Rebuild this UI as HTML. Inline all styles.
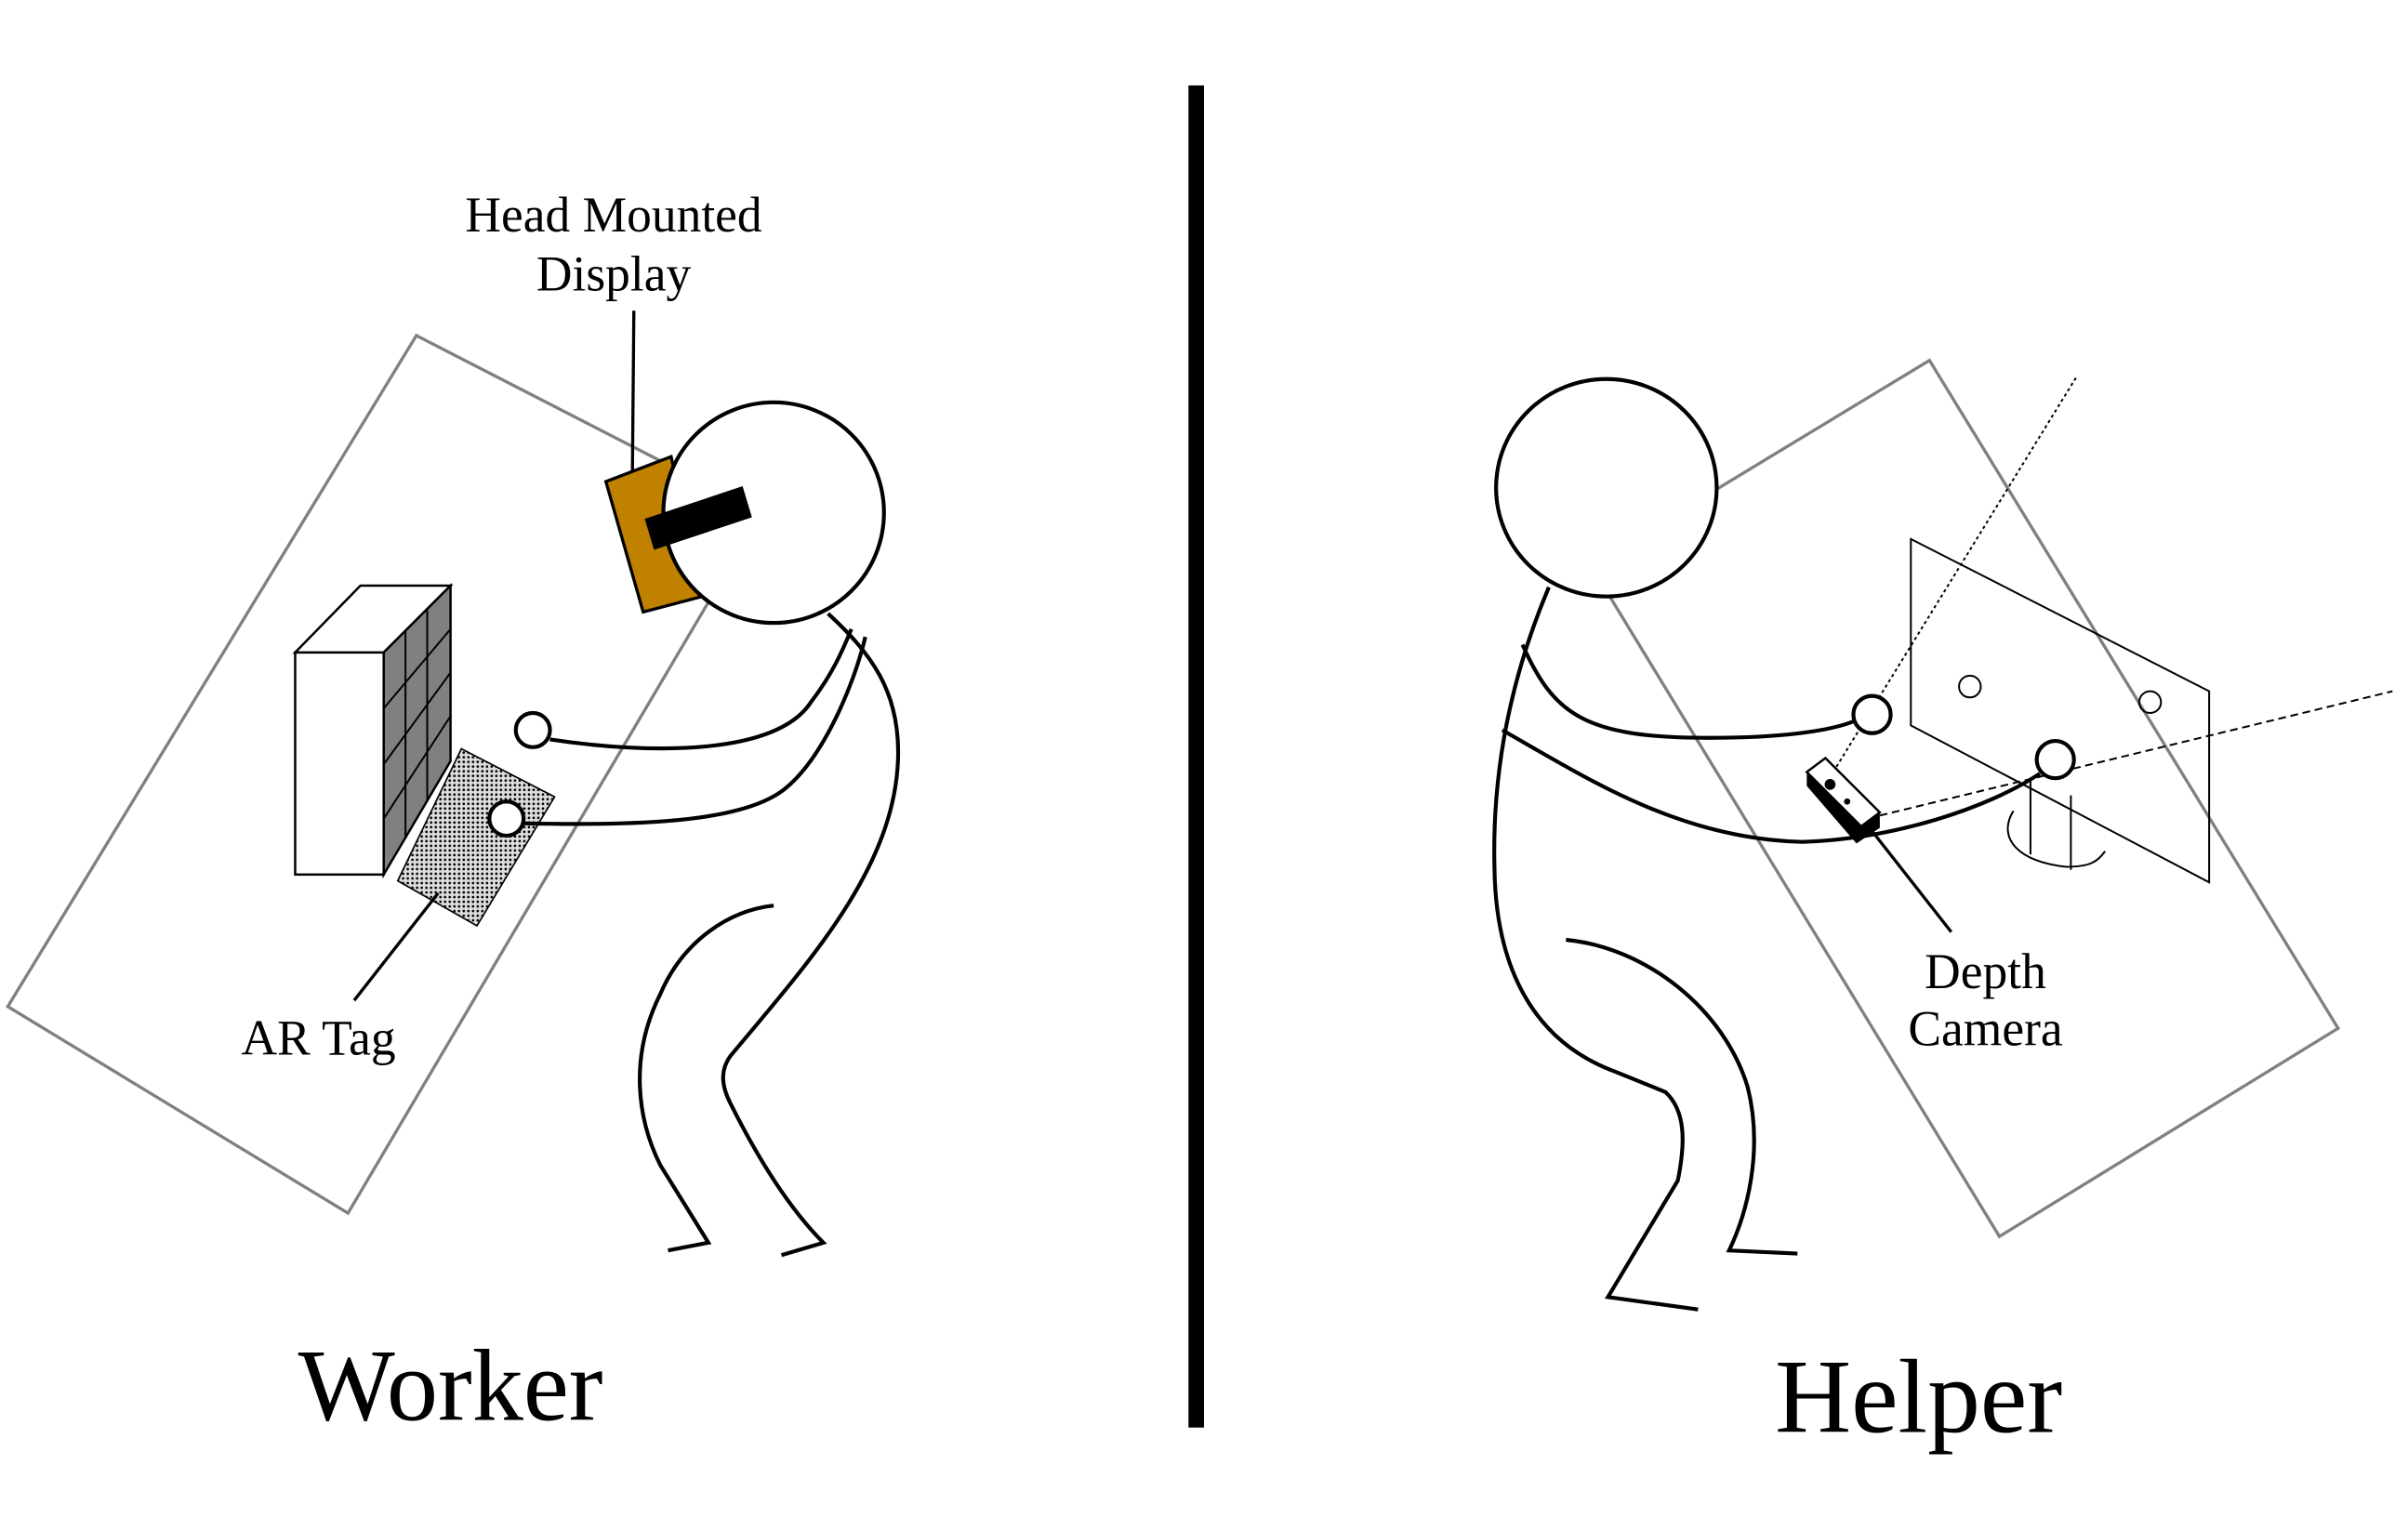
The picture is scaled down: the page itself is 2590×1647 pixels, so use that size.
<!DOCTYPE html>
<html><head><meta charset="utf-8"><style>
html,body{margin:0;padding:0;background:#fff;}
svg{display:block;}
text{font-family:"Liberation Serif",serif;fill:#000;}
</style></head><body>
<svg width="2590" height="1647" viewBox="0 0 1550 985.6" preserveAspectRatio="none" xmlns="http://www.w3.org/2000/svg">
<defs>
<pattern id="dots" width="3" height="3" patternUnits="userSpaceOnUse">
<rect width="3" height="3" fill="#ddd"/><circle cx="1.5" cy="1.5" r="0.8" fill="#000"/>
</pattern>
</defs>
<!-- divider -->
<rect x="765" y="55" width="10" height="864" fill="#000"/>

<!-- WORKER -->
<polygon points="268,216 5,648 224,781 490,330" fill="none" stroke="#808080" stroke-width="2"/>
<text x="395" y="149" font-size="32" text-anchor="middle">Head Mounted</text>
<text x="395" y="187" font-size="32" text-anchor="middle">Display</text>
<line x1="408" y1="200" x2="407" y2="313" stroke="#000" stroke-width="2"/>
<polygon points="390,310 432,294 452,384 414,394" fill="#C08000" stroke="#000" stroke-width="2"/>
<ellipse cx="498" cy="330" rx="71" ry="71" fill="#fff" stroke="#000" stroke-width="2.5"/>
<polygon points="415,334 478,313 484,333 421,354" fill="#000"/>
<!-- cabinet -->
<rect x="190" y="420" width="57" height="143" fill="#fff" stroke="#000" stroke-width="1.5"/>
<polygon points="190,420 232,377 290,377 247,420" fill="#fff" stroke="#000" stroke-width="1.5"/>
<polygon points="247,420 290,377 290,490 247,563" fill="#808080" stroke="#000" stroke-width="1.5"/>
<g stroke="#000" stroke-width="1.2">
<line x1="261" y1="406" x2="261" y2="540"/>
<line x1="275" y1="392" x2="275" y2="515"/>
<line x1="247" y1="456" x2="290" y2="405"/>
<line x1="247" y1="492" x2="290" y2="433"/>
<line x1="247" y1="527" x2="290" y2="461"/>
</g>
<polygon points="256,567 297,482 357,513 307,596" fill="url(#dots)" stroke="#000" stroke-width="1"/>
<line x1="282" y1="575" x2="228" y2="644" stroke="#000" stroke-width="2"/>
<text x="205" y="679" font-size="32" text-anchor="middle">AR Tag</text>
<g fill="none" stroke="#000" stroke-width="2.5">
<path d="M354,476 C420,486 500,486 522,452 C535,435 542,420 548,405"/>
<path d="M337,530 C420,532 480,528 505,508 C530,488 550,440 557,410"/>
<path d="M533,395 C560,420 580,445 578,490 C575,560 520,620 470,680 C463,690 465,700 470,710 C490,750 510,780 530,800 L503,808"/>
<path d="M498,583 C470,586 440,605 425,640 C405,680 410,720 425,750 L456,800 L430,805"/>
</g>
<circle cx="343" cy="470" r="11" fill="#fff" stroke="#000" stroke-width="2.5"/>
<circle cx="326" cy="527" r="11" fill="#fff" stroke="#000" stroke-width="2.5"/>
<text x="290" y="914" font-size="66" text-anchor="middle">Worker</text>

<!-- HELPER -->
<polygon points="1242,232 1505,662 1287,796 1024,364" fill="none" stroke="#808080" stroke-width="2"/>
<ellipse cx="1034" cy="314" rx="71" ry="70" fill="#fff" stroke="#000" stroke-width="2.5"/>
<polygon points="1230,347 1422,445 1422,568 1230,467" fill="none" stroke="#000" stroke-width="1.2"/>
<circle cx="1268" cy="442" r="7" fill="none" stroke="#000" stroke-width="1.2"/>
<circle cx="1384" cy="452" r="7" fill="none" stroke="#000" stroke-width="1.2"/>
<g fill="none" stroke="#000" stroke-width="1.2">
<line x1="1307" y1="503" x2="1307" y2="550"/>
<line x1="1333" y1="512" x2="1333" y2="560"/>
<path d="M1296,522 C1285,540 1300,555 1330,558 C1345,558 1350,555 1355,548"/>
</g>
<line x1="1180" y1="497" x2="1337" y2="242" stroke="#000" stroke-width="1.2" stroke-dasharray="2,2"/>
<line x1="1210" y1="525" x2="1540" y2="445" stroke="#000" stroke-width="1.2" stroke-dasharray="5,3"/>
<g fill="none" stroke="#000" stroke-width="2.5">
<path d="M997,378 C975,430 960,490 962,560 C963,620 985,670 1040,690 L1072,703 C1085,715 1085,735 1080,760 L1035,835 L1093,843"/>
<path d="M1008,605 C1060,610 1110,650 1125,700 C1135,740 1125,780 1113,805 L1157,807"/>
<path d="M980,415 C1000,460 1020,475 1100,475 C1150,475 1180,470 1194,464"/>
<path d="M967,470 C1020,500 1080,540 1160,542 C1220,540 1280,520 1313,498"/>
</g>
<polygon points="1163,497 1163,506 1195,543 1210,533 1210,523 1198,532" fill="#000"/>
<polygon points="1163,497 1175,488 1210,523 1198,532" fill="#fff" stroke="#000" stroke-width="1.5"/>
<circle cx="1178" cy="505" r="3.5" fill="#000"/>
<circle cx="1189" cy="516" r="2" fill="#000"/>
<circle cx="1205" cy="460" r="12" fill="#fff" stroke="#000" stroke-width="2.5"/>
<circle cx="1323" cy="489" r="12" fill="#fff" stroke="#000" stroke-width="2.5"/>
<line x1="1205" y1="535" x2="1256" y2="600" stroke="#000" stroke-width="2"/>
<text x="1278" y="636" font-size="32" text-anchor="middle">Depth</text>
<text x="1278" y="673" font-size="32" text-anchor="middle">Camera</text>
<text x="1235" y="922" font-size="68" text-anchor="middle">Helper</text>
</svg>
</body></html>
